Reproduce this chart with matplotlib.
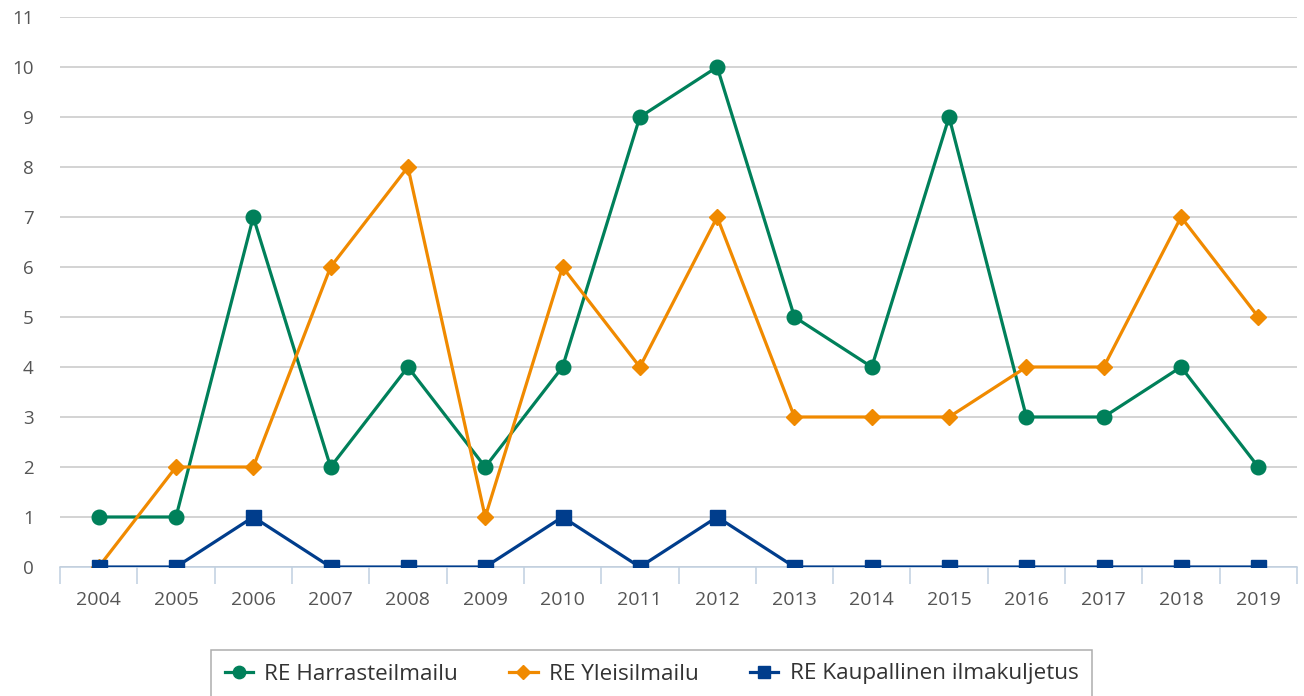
import numpy as np
import matplotlib.pyplot as plt
from matplotlib.ticker import FixedLocator

# data
vuodet = [str(v) for v in range(2004, 2020)]
harraste = [1, 1, 7, 2, 4, 2, 4, 9, 10, 5, 4, 9, 3, 3, 4, 2]
yleis = [0, 2, 2, 6, 8, 1, 6, 4, 7, 3, 3, 3, 4, 4, 7, 5]
kaupallinen = [0, 0, 1, 0, 0, 0, 1, 0, 1, 0, 0, 0, 0, 0, 0, 0]
sarjat = ['RE Harrasteilmailu', 'RE Yleisilmailu', 'RE Kaupallinen ilmakuljetus']

plt.rcParams['font.family'] = ['Open Sans', 'DejaVu Sans']

fig = plt.figure(figsize=(13.04, 6.96), dpi=100)
ax = fig.add_axes([60 / 1304, 1 - 567 / 696, 1237 / 1304, 550 / 696])

x = np.arange(len(vuodet))
ax.plot(x, harraste, color='#00805a', lw=2.3, marker='o', ms=10.5, label=sarjat[0], zorder=3)
ax.plot(x, yleis, color='#f08a00', lw=2.3, marker='D', ms=8, label=sarjat[1], zorder=4)
ax.plot(x, kaupallinen, color='#003d8c', lw=2.3, marker='s', ms=10.8, label=sarjat[2], zorder=5)

ax.set_xlim(-0.5, len(vuodet) - 0.5)
ax.set_ylim(0, 11)
ax.set_yticks(range(0, 12))
ax.set_xticks(x)
ax.set_xticklabels(vuodet)
ax.xaxis.set_minor_locator(FixedLocator(np.arange(-0.5, len(vuodet), 1)))
ax.tick_params(axis='x', which='major', length=0, pad=17, labelsize=14, labelcolor='#555555')
ax.tick_params(axis='x', which='minor', length=12, width=1.1, color='#c0d0e0')
ax.tick_params(axis='y', length=0, pad=19, labelsize=13.5, labelcolor='#555555')
for lab in ax.get_yticklabels():
    lab.set_horizontalalignment('right')

ax.grid(axis='y', color='#c8c8c8', lw=1.1, zorder=0)
ax.set_axisbelow(True)
for s in ['top', 'right', 'left']:
    ax.spines[s].set_visible(False)
ax.spines['bottom'].set_color('#c0d0e0')
ax.spines['bottom'].set_linewidth(1.1)
ax.spines['bottom'].set_zorder(2)

leg = fig.legend(loc='upper left', bbox_to_anchor=(211 / 1304, 1 - 650 / 696),
                 ncol=3, frameon=True, fancybox=False, fontsize=16.2,
                 handlelength=1.25, handletextpad=0.5, columnspacing=2.3,
                 borderpad=0.6, borderaxespad=0, markerscale=0.85)
leg.get_frame().set_edgecolor('#999999')
leg.get_frame().set_linewidth(1.1)
for t in leg.get_texts():
    t.set_color('#333333')

fig.savefig('out.png', dpi=100)
